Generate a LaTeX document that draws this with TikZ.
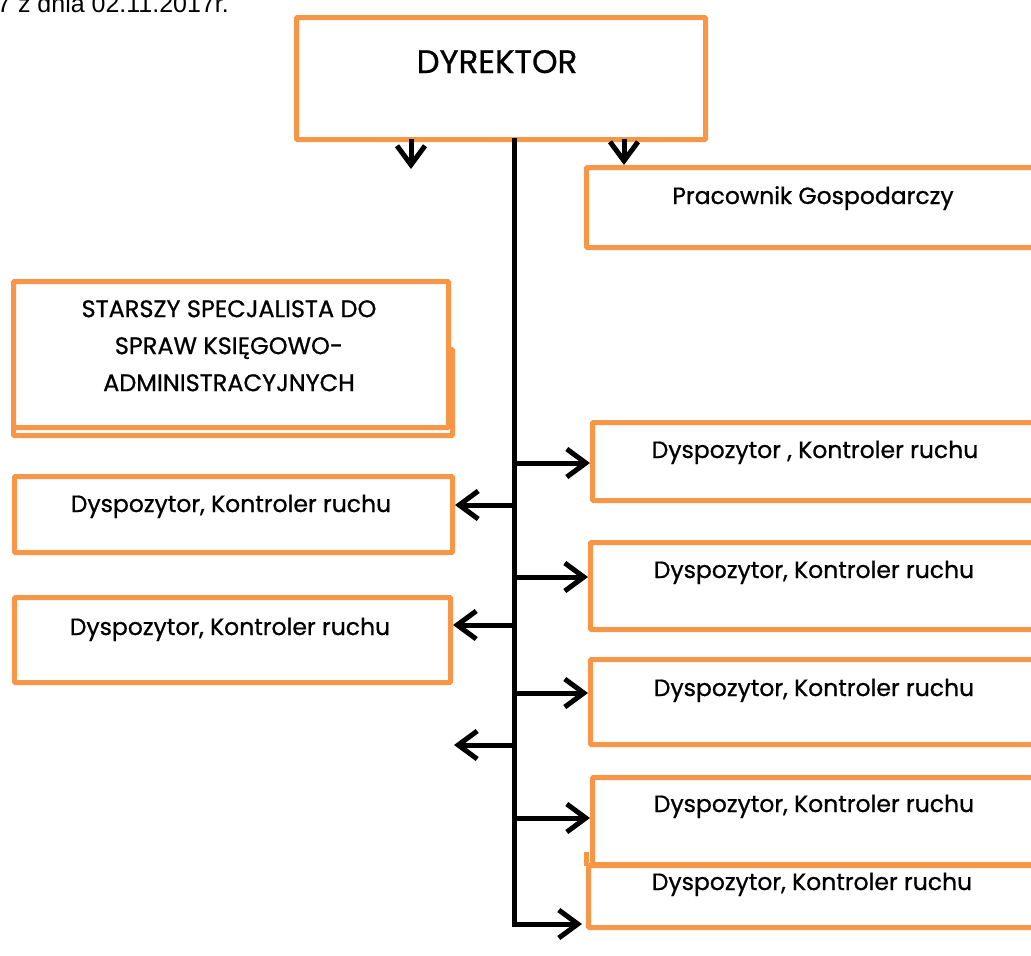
\documentclass[tikz,border=0pt]{standalone}
\usepackage{fontspec}
\setmainfont{Poppins}[RawFeature={embolden=0.8}]
\newfontfamily\arialfont{Liberation Sans}
\usetikzlibrary{arrows.meta}
\definecolor{boxorange}{HTML}{F79646}
\tikzset{
  box/.style={draw=boxorange, line width=5pt, fill=white, rounded corners=1pt, inner sep=0pt, anchor=north west},
  lbl/.style={anchor=base, inner sep=0pt, font=\fontsize{23.5}{28}\selectfont},
  conn/.style={line width=5pt, -{Straight Barb[length=19pt,width=28pt,line width=5pt]}}
}
\begin{document}
\begin{tikzpicture}[x=1pt,y=-1pt]
\useasboundingbox (0,0) rectangle (1031,956);
\clip (0,0) rectangle (1031,956);
% header text (cut off at the top edge, as in the reference)
\node[anchor=base west, inner sep=0pt, font=\arialfont\fontsize{25}{30}\selectfont] (hdr) at (-3,12) {7 z dnia 02.11.2017r.};
% DYREKTOR
\node[box, minimum width=409pt, minimum height=122pt] (dyr) at (294,15) {};
\node[lbl, font=\fontsize{32.5}{36}\selectfont] (dyrt) at (497,73) {DYREKTOR};
% Pracownik Gospodarczy
\node[box, minimum width=470pt, minimum height=80pt] (prac) at (584,165) {};
\node[lbl] (pract) at (813,204) {Pracownik Gospodarczy};
% STARSZY SPECJALISTA
\node[box, minimum width=439pt, minimum height=86pt] (stb) at (11,347) {};
\node[box, minimum width=435pt, minimum height=146pt] (st) at (11,279) {};
\node[lbl, align=center, font=\fontsize{24}{37}\selectfont, anchor=north] (stt) at (229,300) {STARSZY SPECJALISTA DO\\SPRAW KSIĘGOWO-\\ADMINISTRACYJNYCH};
% Left boxes
\node[box, minimum width=438pt, minimum height=76pt] (l1) at (12,474) {};
\node[lbl] (l1t) at (231,512) {Dyspozytor, Kontroler ruchu};
\node[box, minimum width=436pt, minimum height=85pt] (l2) at (12,595) {};
\node[lbl] (l2t) at (230,635) {Dyspozytor, Kontroler ruchu};
% Right boxes
\node[box, minimum width=470pt, minimum height=78pt] (r1) at (590,420) {};
\node[lbl] (r1t) at (815,458) {Dyspozytor , Kontroler ruchu};
\node[box, minimum width=470pt, minimum height=87pt] (r2) at (588,540) {};
\node[lbl] (r2t) at (814,578) {Dyspozytor, Kontroler ruchu};
\node[box, minimum width=470pt, minimum height=85pt] (r3) at (588,657) {};
\node[lbl] (r3t) at (814,696) {Dyspozytor, Kontroler ruchu};
\node[box, minimum width=470pt, minimum height=87pt] (r4) at (590,775) {};
\node[box, minimum width=470pt, minimum height=62pt] (r5) at (586,863) {};
\draw[draw=boxorange, line width=5pt] (586,852) -- (586,866);
\node[lbl] (r4t) at (814,812) {Dyspozytor, Kontroler ruchu};
\node[lbl] (r5t) at (812,890) {Dyspozytor, Kontroler ruchu};
% spine coordinates
\coordinate (sp0) at (514,138);
\coordinate (sl1) at (514,505);
\coordinate (sl2) at (514,625);
\coordinate (sl3) at (514,745);
\coordinate (sr1) at (514,463);
\coordinate (sr2) at (514,577);
\coordinate (sr3) at (514,693);
\coordinate (sr4) at (514,818);
\coordinate (send) at (582,924);
\coordinate (fl3) at (454,745);
\coordinate (d1a) at (411,139);
\coordinate (d1b) at (411,169);
\coordinate (d2a) at (624,139);
% connectors
\draw[conn] (sp0) |- (send);
\draw[conn] (d1a) -- (d1b);
\draw[conn] (d2a) -- (d2a |- prac.north);
\draw[conn] (sr1) -- (sr1 -| r1.west);
\draw[conn] (sr2) -- (sr2 -| r2.west);
\draw[conn] (sr3) -- (sr3 -| r3.west);
\draw[conn] (sr4) -- (sr4 -| r4.west);
\draw[conn] (sl1) -- (sl1 -| l1.east);
\draw[conn] (sl2) -- (sl2 -| l2.east);
\draw[conn] (sl3) -- (fl3);
\end{tikzpicture}
\end{document}
